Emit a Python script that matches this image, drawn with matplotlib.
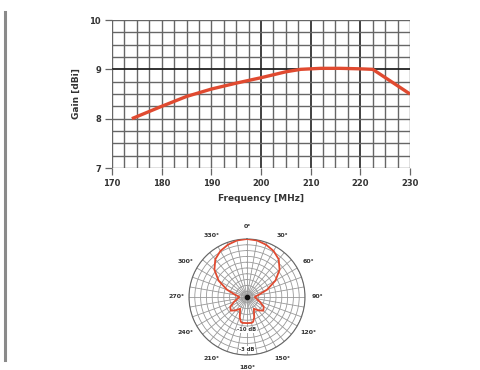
import numpy as np
import matplotlib
matplotlib.use("Agg")
import matplotlib.pyplot as plt
from matplotlib.lines import Line2D

# ---- data ----
freq_mhz = [174, 180, 185, 190, 195, 200, 205, 208, 212, 216, 220, 222.5, 230]
gain_dbi = [8.0, 8.25, 8.45, 8.6, 8.72, 8.83, 8.95, 9.0, 9.02, 9.02, 9.01, 9.0, 8.5]
x_ticks = [170, 180, 190, 200, 210, 220, 230]
y_ticks = [7, 8, 9, 10]

pat_angle_deg = [0, 10, 20, 30, 40, 50, 60, 70, 80, 90, 100, 110, 120, 130, 140, 150, 160, 166, 170, 180]
pat_db = [0, -0.3, -1.2, -2.5, -4.5, -8, -13, -19, -24, -26, -25, -23, -20, -19, -21, -23, -19, -16.8, -16.4, -16.5]
polar_labels = ["0°", "30°", "60°", "90°", "120°", "150°", "180°", "210°", "240°", "270°", "300°", "330°"]
db_range = 30

fig = plt.figure(figsize=(4.81, 3.70), dpi=100)
fig.patch.set_facecolor("white")

# left border line
fig.add_artist(Line2D([5/481, 5/481], [1-12/370, 1-360/370], color="#8a8a8a", lw=2.2,
                      transform=fig.transFigure))

# ---- top gain chart ----
ax = fig.add_axes([112/481, 1-168/370, 298/481, 148/370])
ax.plot(freq_mhz, gain_dbi, color="#e04a30", lw=2.4, zorder=5, solid_capstyle="butt")
ax.set_xlim(170, 230)
ax.set_ylim(7, 10)
for xv in np.arange(170, 230.01, 2.5):
    major = abs(xv - 200) < 1e-6 or abs(xv - 220) < 1e-6 or abs(xv - 210) < 1e-6
    ax.axvline(xv, color="#333333" if major else "#666666", lw=1.3 if major else 1.0, zorder=1)
for yv in np.arange(7, 10.01, 0.25):
    major = abs(yv - 9) < 1e-6
    ax.axhline(yv, color="#222222" if major else "#666666", lw=1.3 if major else 1.0, zorder=1)
ax.set_xticks(x_ticks)
ax.set_yticks(y_ticks)
ax.set_xticklabels([str(v) for v in x_ticks], fontsize=6, fontweight="bold", color="#333333")
ax.set_yticklabels([str(v) for v in y_ticks], fontsize=6, fontweight="bold", color="#333333")
ax.tick_params(length=5, width=0.9, color="#666666", pad=3)
for s in ax.spines.values():
    s.set_visible(False)
ax.set_xlabel("Frequency [MHz]", fontsize=6.5, fontweight="bold", color="#333333", labelpad=4)
ax.set_ylabel("Gain [dBi]", fontsize=6.5, fontweight="bold", color="#333333", labelpad=6)

# ---- polar pattern ----
pax = fig.add_axes([189/481, 1-355/370, 116/481, 116/370], projection="polar")
ang = np.array(pat_angle_deg, dtype=float)
db = np.array(pat_db, dtype=float)
full_ang = np.concatenate([ang, 360 - ang[::-1][1:]])
full_db = np.concatenate([db, db[::-1][1:]])
r = db_range + full_db
pax.plot(np.deg2rad(full_ang), r, color="#e04a30", lw=1.3, zorder=5)
pax.set_theta_zero_location("N")
pax.set_theta_direction(-1)
pax.set_ylim(0, db_range)
pax.set_rticks(np.arange(3, db_range + 0.1, 3))
pax.set_yticklabels([])
pax.set_thetagrids(np.arange(0, 360, 10), labels=[""] * 36)
pax.grid(True, color="#999999", lw=0.6)
pax.spines["polar"].set_color("#666666")
pax.spines["polar"].set_linewidth(0.8)
pax.tick_params(pad=0)
for i, lab in enumerate(polar_labels):
    th = np.deg2rad(i * 30)
    pax.text(th, db_range * 1.22, lab, fontsize=4.5, fontweight="bold", color="#333333",
             ha="center", va="center")
pax.text(np.pi, 17, "-10 dB", fontsize=3.8, fontweight="bold", color="#333333", ha="center", va="center",
         bbox=dict(facecolor="white", edgecolor="none", pad=0.3))
pax.text(np.pi, 27, "-3 dB", fontsize=3.8, fontweight="bold", color="#333333", ha="center", va="center",
         bbox=dict(facecolor="white", edgecolor="none", pad=0.3))
pax.plot([0], [0], "o", color="#111111", ms=3, zorder=6)

fig.savefig("out.png", dpi=100, facecolor="white")
